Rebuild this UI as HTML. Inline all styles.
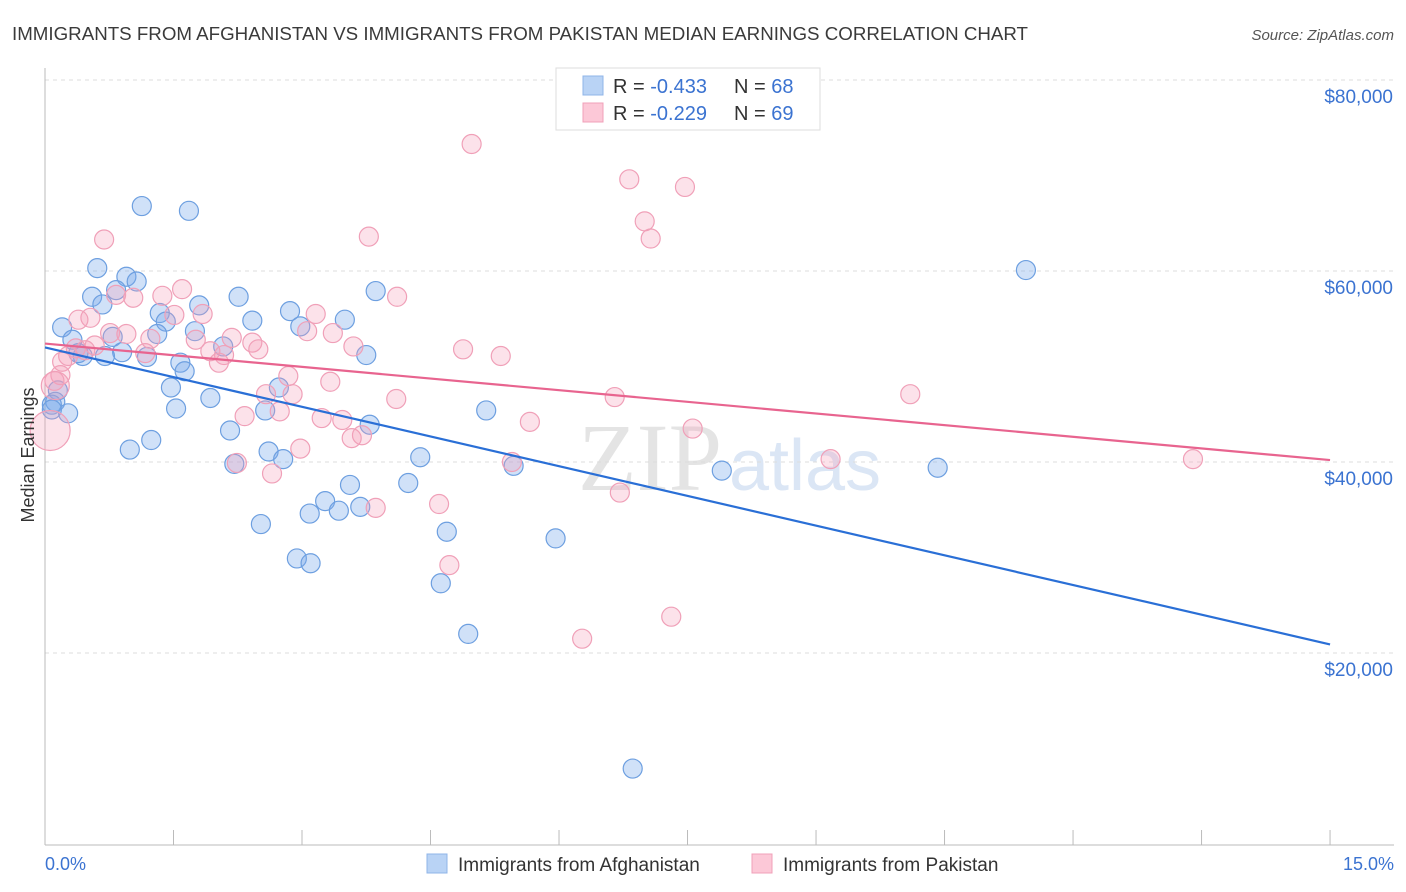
<!DOCTYPE html>
<html><head><meta charset="utf-8"><style>
body{margin:0;background:#fff;font-family:"Liberation Sans",sans-serif;}
#wrap{position:relative;width:1406px;height:892px;overflow:hidden;}
</style></head><body>
<div id="wrap">
<svg id="svg" width="1406" height="892" xmlns="http://www.w3.org/2000/svg">
<text x="12" y="40" font-size="18" fill="#3a3a3a" textLength="1016" lengthAdjust="spacingAndGlyphs">IMMIGRANTS FROM AFGHANISTAN VS IMMIGRANTS FROM PAKISTAN MEDIAN EARNINGS CORRELATION CHART</text>
<text x="1394" y="40" font-size="15" fill="#555" text-anchor="end" font-style="italic">Source: ZipAtlas.com</text>
<text x="650" y="490" font-size="96" fill="#e4e4e4" font-family="Liberation Serif,serif" text-anchor="middle">ZIP</text>
<text x="805" y="490" font-size="72" fill="#dbe6f5" text-anchor="middle">atlas</text>
<g id="grid"></g><g id="pts"></g><g id="lines"></g>
<text transform="translate(34,455) rotate(-90)" font-size="18" fill="#333" text-anchor="middle">Median Earnings</text>
<text x="45" y="870" font-size="18" fill="#3b73d1">0.0%</text>
<text x="1394" y="870" font-size="18" fill="#3b73d1" text-anchor="end">15.0%</text>
<g>
<rect x="556" y="68" width="264" height="62" fill="#fff" stroke="#ddd"/>
<rect x="583" y="76" width="20" height="19" fill="#b9d3f5" stroke="#8fb4e8"/>
<rect x="583" y="103" width="20" height="19" fill="#fcc8d7" stroke="#f0a0b8"/>
<text x="613" y="93" font-size="20" fill="#333">R = <tspan fill="#3b73d1">-0.433</tspan></text>
<text x="734" y="93" font-size="20" fill="#333">N = <tspan fill="#3b73d1">68</tspan></text>
<text x="613" y="120" font-size="20" fill="#333">R = <tspan fill="#3b73d1">-0.229</tspan></text>
<text x="734" y="120" font-size="20" fill="#333">N = <tspan fill="#3b73d1">69</tspan></text>
</g>
<g>
<rect x="427" y="854" width="20" height="19" fill="#b9d3f5" stroke="#8fb4e8"/>
<text x="458" y="871" font-size="19" fill="#333">Immigrants from Afghanistan</text></g>
<g>
<rect x="752" y="854" width="20" height="19" fill="#fcc8d7" stroke="#f0a0b8"/>
<text x="783" y="871" font-size="19" fill="#333">Immigrants from Pakistan</text></g>
</svg></div>
<script>
const yTicks=[20000,40000,60000,80000];
const yTickLabels=["$20,000","$40,000","$60,000","$80,000"];
const blueX=[1.13,1.68,0.61,0.95,1.07,0.83,0.55,0.67,2.26,1.80,1.34,1.41,0.20,2.42,2.86,2.98,3.50,3.86,0.32,0.79,1.75,1.31,2.08,0.90,1.19,0.44,0.70,0.39,3.75,1.58,1.63,1.47,2.73,1.93,0.15,0.12,0.08,0.27,1.53,2.57,5.15,3.79,2.16,1.24,0.99,2.61,2.78,2.21,4.38,5.47,7.90,10.42,11.45,3.56,4.24,3.27,3.43,3.09,3.68,2.52,4.69,5.96,2.94,3.10,4.62,4.94,6.86,0.08];
const blueY=[66.8,66.3,60.3,59.4,58.9,58.0,57.3,56.5,57.3,56.4,55.6,54.7,54.1,54.8,55.8,54.2,54.9,57.9,52.8,53.1,53.7,53.4,52.1,51.5,51.0,51.1,51.1,51.4,51.2,50.4,49.5,47.8,47.8,46.7,47.5,46.3,46.0,45.1,45.6,45.4,45.4,43.9,43.3,42.3,41.3,41.1,40.3,39.8,40.5,39.6,39.1,39.4,60.1,37.6,37.8,35.9,34.9,34.6,35.3,33.5,32.7,32.0,29.9,29.4,27.3,22.0,7.9,45.5];
const pinkX=[4.98,6.82,7.47,7.00,7.07,0.69,3.78,4.11,1.60,1.37,1.03,0.83,3.16,1.51,1.84,0.53,0.39,3.06,3.36,0.95,0.76,1.23,2.18,3.60,1.76,0.47,0.36,2.42,2.49,4.88,5.32,1.17,1.93,2.09,2.03,0.27,0.20,2.84,3.33,0.18,0.11,2.58,2.89,4.10,6.65,10.10,2.74,2.33,3.23,3.47,5.66,3.70,3.58,7.56,2.98,2.24,5.45,9.17,13.40,2.65,4.60,3.86,6.71,4.72,7.31,6.27,0.06,0.58,0.12];
const pinkY=[73.3,69.6,68.8,65.2,63.4,63.3,63.6,57.3,58.1,57.4,57.2,57.5,55.5,55.4,55.5,55.1,54.9,53.7,53.5,53.4,53.5,52.9,53.0,52.1,52.8,51.7,51.9,52.5,51.8,51.8,51.1,51.4,51.6,51.2,50.4,51.1,50.5,49.0,48.4,49.1,48.5,47.1,47.1,46.6,46.8,47.1,45.3,44.8,44.6,44.4,44.2,42.8,42.5,43.5,41.4,39.9,40.0,40.3,40.3,38.8,35.6,35.2,36.8,29.2,23.8,21.5,43.3,52.2,48.0];
const pinkR=pinkX.map((v,i)=>i===66?20:(i===68?14:9.5));
const blueTrend=[52.0,20.9];
const pinkTrend=[52.4,40.2];
const NS="http://www.w3.org/2000/svg";
const X=p=>45+p*85.67;
const Y=v=>844-v*9.55;
const grid=document.getElementById('grid');
function mk(t,a,parent){const e=document.createElementNS(NS,t);for(const k in a)e.setAttribute(k,a[k]);parent.appendChild(e);return e;}
yTicks.forEach((t,i)=>{
 const l=mk('line',{x1:45,x2:1394,y1:Y(t/1000),y2:Y(t/1000),stroke:'#ddd','stroke-dasharray':'4,4'},grid);
 
 
 const tx=mk('text',{x:1393,y:Y(t/1000)+23,'font-size':19,fill:'#3b73d1','text-anchor':'end'},grid);
 tx.textContent=yTickLabels[i];
 
 
});
mk('line',{x1:45,x2:45,y1:68,y2:845,stroke:'#bbb'},grid);
mk('line',{x1:45,x2:1394,y1:845,y2:845,stroke:'#bbb'},grid);
for(let i=0;i<=10;i++){const t=mk('line',{x1:X(i*1.5),x2:X(i*1.5),y1:830,y2:845,stroke:'#bbb'},grid);
 
 }
const pts=document.getElementById('pts');
blueX.forEach((x,i)=>{const c=mk('circle',{cx:X(x),cy:Y(blueY[i]),r:9.5,fill:'rgba(120,170,235,0.35)',stroke:'#6d9fe0','stroke-width':1.2},pts);
 
 });
pinkX.forEach((x,i)=>{const c=mk('circle',{cx:X(x),cy:Y(pinkY[i]),r:pinkR[i],fill:'rgba(245,160,185,0.3)',stroke:'#f0a0b8','stroke-width':1.2},pts);
 
 });
const lines=document.getElementById('lines');
const bl=mk('line',{x1:X(0),y1:Y(blueTrend[0]),x2:X(15),y2:Y(blueTrend[1]),stroke:'#2a6fd6','stroke-width':2.2},lines);


const pl=mk('line',{x1:X(0),y1:Y(pinkTrend[0]),x2:X(15),y2:Y(pinkTrend[1]),stroke:'#e8648f','stroke-width':2.2},lines);


</script>
</body></html>
